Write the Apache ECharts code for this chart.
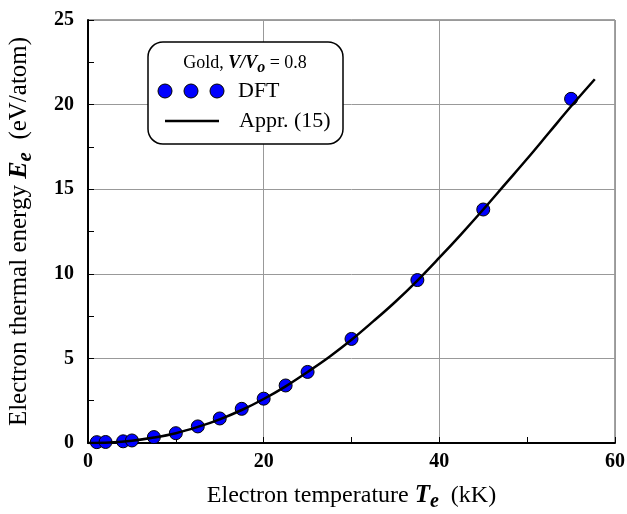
<!DOCTYPE html>
<html>
<head>
<meta charset="utf-8">
<script src="https://cdn.jsdelivr.net/npm/echarts@6/dist/echarts.min.js"></script>
<style>html,body{margin:0;padding:0;background:#fff}#c{width:627px;height:514px}</style>
</head>
<body>
<div id="c"></div>
<script>
// DFT data points (Te in kK, Ee in eV/atom)
var dftT = [1, 2, 4, 5, 7.5, 10, 12.5, 15, 17.5, 20, 22.5, 25, 30, 37.5, 45, 55];
var dftE = [0.05, 0.06, 0.1, 0.15, 0.35, 0.58, 0.98, 1.45, 2.02, 2.62, 3.4, 4.2, 6.15, 9.63, 13.8, 20.34];
// Approximation curve
var apprT = [0, 2.5, 5, 7.5, 10, 12.5, 15, 17.5, 20, 22.5, 25, 27.5, 30, 32.5, 35, 37.5, 40, 42.5, 45, 47.5, 50, 52.5, 55, 57.7];
var apprE = [0, 0.03, 0.13, 0.32, 0.58, 0.95, 1.4, 1.95, 2.6, 3.35, 4.2, 5.1, 6.1, 7.2, 8.35, 9.6, 10.95, 12.35, 13.8, 15.3, 16.8, 18.35, 19.9, 21.5];
var xTicks = [0, 20, 40, 60];
var yTicks = [0, 5, 10, 15, 20, 25];

var F = 'Liberation Serif';
var chart = echarts.init(document.getElementById('c'), null, {renderer: 'canvas'});
chart.setOption({
  animation: false,
  grid: {left: 88, right: 12, top: 20, bottom: 71, containLabel: false, outerBoundsMode: 'none',
         show: true, borderColor: '#444', borderWidth: 1, backgroundColor: 'transparent'},
  xAxis: {
    type: 'value', min: xTicks[0], max: xTicks[xTicks.length - 1], interval: 20,
    axisLine: {show: true, onZero: false, lineStyle: {color: '#000', width: 2}},
    axisTick: {show: true, inside: true, length: 6, lineStyle: {color: '#000', width: 1}},
    minorTick: {show: true, splitNumber: 2, length: 6, lineStyle: {color: '#000', width: 1}},
    splitLine: {show: true, lineStyle: {color: '#999', width: 1}},
    axisLabel: {fontFamily: F, fontWeight: 'bold', fontSize: 20, color: '#000', margin: 9},
    name: 'Electron temperature {b|T}{s|e}  (kK)',
    nameLocation: 'middle', nameGap: 37,
    nameTextStyle: {fontFamily: F, fontSize: 24, color: '#000',
      rich: {
        b: {fontFamily: F, fontSize: 25, fontWeight: 'bold', fontStyle: 'italic', color: '#000'},
        s: {fontFamily: F, fontSize: 20, fontWeight: 'bold', fontStyle: 'italic', color: '#000', padding: [12, 0, 0, 0]}
      }}
  },
  yAxis: {
    type: 'value', min: yTicks[0], max: yTicks[yTicks.length - 1], interval: 5,
    axisLine: {show: true, onZero: false, lineStyle: {color: '#000', width: 2}},
    axisTick: {show: true, inside: true, length: 6, lineStyle: {color: '#000', width: 1}},
    minorTick: {show: true, splitNumber: 2, length: 6, lineStyle: {color: '#000', width: 1}},
    splitLine: {show: true, lineStyle: {color: '#999', width: 1}},
    axisLabel: {fontFamily: F, fontWeight: 'bold', fontSize: 20, color: '#000', margin: 14},
    name: 'Electron thermal energy {b|E}{s|e}  (eV/atom)',
    nameLocation: 'middle', nameGap: 52, nameRotate: 90,
    nameTextStyle: {fontFamily: F, fontSize: 25, color: '#000',
      rich: {
        b: {fontFamily: F, fontSize: 26, fontWeight: 'bold', fontStyle: 'italic', color: '#000'},
        s: {fontFamily: F, fontSize: 21, fontWeight: 'bold', fontStyle: 'italic', color: '#000', padding: [12, 0, 0, 0]}
      }}
  },
  series: [
    {
      type: 'scatter', name: 'DFT',
      data: dftT.map(function (t, i) { return [t, dftE[i]]; }),
      symbol: 'circle', symbolSize: 13,
      itemStyle: {color: '#0000ff', borderColor: '#000', borderWidth: 1, opacity: 1},
      z: 2
    },
    {
      type: 'line', name: 'Appr. (15)',
      data: apprT.map(function (t, i) { return [t, apprE[i]]; }),
      smooth: 0.4, showSymbol: false, symbol: 'none',
      lineStyle: {color: '#000', width: 2.5},
      z: 3
    }
  ],
  graphic: [
    {type: 'rect', shape: {x: 148, y: 42, width: 195, height: 102, r: 15},
     style: {fill: '#fff', stroke: '#000', lineWidth: 1.5}, z: 10},
    {type: 'text', x: 245, y: 63, z: 11,
     style: {text: 'Gold, {b|V/V}{s|o} = 0.8', align: 'center', verticalAlign: 'middle',
       font: '18px "Liberation Serif"', fill: '#000',
       rich: {
         b: {fontFamily: F, fontSize: 18, fontWeight: 'bold', fontStyle: 'italic', fill: '#000'},
         s: {fontFamily: F, fontSize: 16, fontWeight: 'bold', fontStyle: 'italic', fill: '#000', padding: [9, 0, 0, 0]}
       }}},
    {type: 'circle', shape: {cx: 165, cy: 91, r: 7}, style: {fill: '#0000ff', stroke: '#000', lineWidth: 1}, z: 11},
    {type: 'circle', shape: {cx: 191, cy: 91, r: 7}, style: {fill: '#0000ff', stroke: '#000', lineWidth: 1}, z: 11},
    {type: 'circle', shape: {cx: 217, cy: 91, r: 7}, style: {fill: '#0000ff', stroke: '#000', lineWidth: 1}, z: 11},
    {type: 'text', x: 238, y: 91, z: 11,
     style: {text: 'DFT', verticalAlign: 'middle', font: '22px "Liberation Serif"', fill: '#000'}},
    {type: 'line', shape: {x1: 165, y1: 121, x2: 219, y2: 121}, style: {stroke: '#000', lineWidth: 2.5}, z: 11},
    {type: 'text', x: 239, y: 121, z: 11,
     style: {text: 'Appr. (15)', verticalAlign: 'middle', font: '22px "Liberation Serif"', fill: '#000'}}
  ]
});
</script>
</body>
</html>
